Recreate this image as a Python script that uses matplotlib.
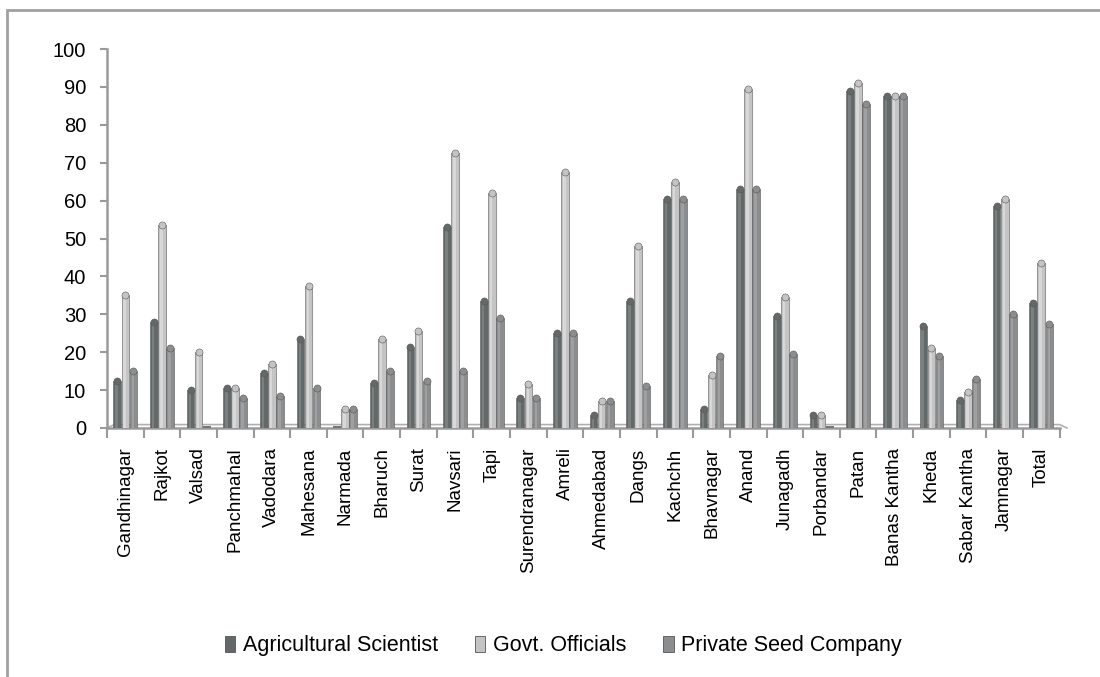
import matplotlib.pyplot as plt
import matplotlib.patches as mpatches
import numpy as np

districts = ['Gandhinagar', 'Rajkot', 'Valsad', 'Panchmahal', 'Vadodara', 'Mahesana',
             'Narmada', 'Bharuch', 'Surat', 'Navsari', 'Tapi', 'Surendranagar', 'Amreli',
             'Ahmedabad', 'Dangs', 'Kachchh', 'Bhavnagar', 'Anand', 'Junagadh', 'Porbandar',
             'Patan', 'Banas Kantha', 'Kheda', 'Sabar Kantha', 'Jamnagar', 'Total']

agri_scientist = [12.5, 28, 10, 10.5, 14.5, 23.5, 0, 12, 21.5, 53, 33.5, 8, 25,
                  3.5, 33.5, 60.5, 5, 63, 29.5, 3.5, 89, 87.5, 27, 7.5, 58.5, 33]
govt_officials = [35, 53.5, 20, 10.5, 17, 37.5, 5, 23.5, 25.5, 72.5, 62, 11.5, 67.5,
                  7, 48, 65, 14, 89.5, 34.5, 3.5, 91, 87.5, 21, 9.5, 60.5, 43.5]
private_seed = [15, 21, 0, 8, 8.5, 10.5, 5, 15, 12.5, 15, 29, 8, 25,
                7, 11, 60.5, 19, 63, 19.5, 0, 85.5, 87.5, 19, 13, 30, 27.5]

series = [('Agricultural Scientist', agri_scientist, '#636869', '#8a8f90'),
          ('Govt. Officials', govt_officials, '#c4c4c4', '#e6e6e6'),
          ('Private Seed Company', private_seed, '#8b8d8e', '#acaeaf')]

plt.rcParams['font.family'] = ['Liberation Sans', 'DejaVu Sans']

fig = plt.figure(figsize=(11, 6.77), dpi=100)
ax = fig.add_axes([0.0973, 0.3678, 0.866, 0.5597])

# grey frame round the chart area (bottom and right fall outside the image)
fig.add_artist(mpatches.Rectangle((0.0064, -0.05), 1.1, 1.035, transform=fig.transFigure,
                                  fill=False, ec='#a0a0a0', lw=2.0))

x = np.arange(len(districts))
w = 0.22
offsets = [-w, 0, w]

handles = []
for (name, vals, col, hi), off in zip(series, offsets):
    vals = np.array(vals)
    ax.bar(x + off, vals, width=w * 0.95, color=col, edgecolor='#5a5a5a',
           linewidth=0.4, zorder=3)
    # lighter stripe gives the cylinder look
    ax.bar(x + off - w * 0.08, vals, width=w * 0.3, color=hi, linewidth=0, alpha=0.6, zorder=4)
    # rounded caps on the cylinders, none on empty bars
    has = vals > 0
    ax.scatter((x + off)[has], vals[has], s=26, marker='o', color=col, edgecolor='#5a5a5a',
               linewidth=0.4, zorder=5, clip_on=False)
    # empty bars show as a flat disc on the floor
    ax.scatter((x + off)[~has], vals[~has] + 0.3, s=30, marker='_', color='#777777',
               linewidth=1.5, zorder=5, clip_on=False)
    handles.append(mpatches.Patch(facecolor=col, edgecolor='#555555', linewidth=0.6, label=name))

ax.set_xlim(-0.5, len(districts) - 0.5)
ax.set_ylim(0, 100)
ax.set_yticks(range(0, 101, 10))
ax.tick_params(axis='y', labelsize=14.5, length=5, width=1.5, color='#9a9a9a', pad=10)

ax.set_xticks(x)
ax.set_xticklabels(districts, rotation=90, fontsize=13.5)
ax.tick_params(axis='x', length=0, pad=14)
ax.set_xticks(np.arange(-0.5, len(districts)), minor=True)
ax.tick_params(axis='x', which='minor', length=7, width=1.5, color='#9a9a9a')

for side in ['top', 'right']:
    ax.spines[side].set_visible(False)
for side in ['left', 'bottom']:
    ax.spines[side].set_color('#9a9a9a')
    ax.spines[side].set_linewidth(1.8)

# floor of the 3d plot
ax.plot([-0.5, -0.3, len(districts) - 0.5, len(districts) - 0.3],
        [0, 0.9, 0.9, 0], color='#b0b0b0', lw=1.2, clip_on=False, zorder=2)

fig.legend(handles=handles, loc='center', bbox_to_anchor=(0.512, 0.046), ncol=3,
           frameon=False, fontsize=15.5, handlelength=0.5, handleheight=0.8,
           columnspacing=1.7, handletextpad=0.35)

fig.savefig('out.png', dpi=100)
